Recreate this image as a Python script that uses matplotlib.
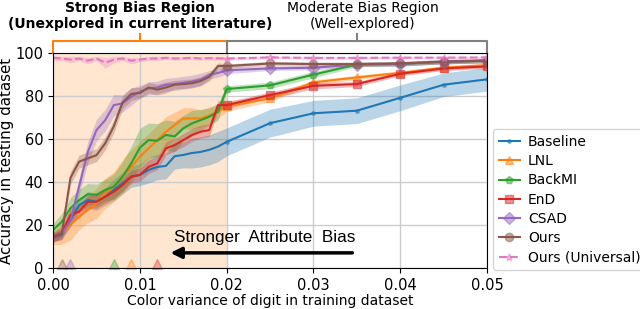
import matplotlib
matplotlib.use('Agg')
import matplotlib.pyplot as plt
import matplotlib.transforms as mtransforms
import numpy as np

# colour variance values (dense in strong-bias region, sparse afterwards)
x_vals = [0.000, 0.001, 0.002, 0.003, 0.004, 0.005, 0.006, 0.007, 0.008, 0.009,
          0.010, 0.011, 0.012, 0.013, 0.014, 0.015, 0.016, 0.017, 0.018, 0.019,
          0.020, 0.025, 0.030, 0.035, 0.040, 0.045, 0.050]

baseline = [14, 15.3, 22.3, 29.3, 31.6, 30.8, 33.2, 36.3, 39.4, 42.5,
            43.3, 45.6, 47, 47.5, 52, 52.6, 53.5, 54, 55, 56.5,
            58.7, 67.4, 72, 73.2, 79.2, 85.3, 87.8]
baseline_std = [2, 2, 3, 3, 4, 4, 4, 5, 5, 5,
                5, 6, 6, 6, 6, 6, 7, 7, 7, 7,
                6.5, 6.5, 6, 6, 6, 5.5, 5.5]

lnl = [13.8, 16, 20, 23.9, 27, 30, 34.7, 37.8, 42.5, 47,
       51.8, 55.6, 59.5, 63.4, 66.5, 69.6, 69.6, 69.6, 71, 72.7,
       75.3, 78.9, 86.4, 88.7, 90.8, 93.2, 94.4]
lnl_std = [3, 5, 7, 6, 6, 7, 7, 7, 8, 8,
           7, 7, 7, 7, 6, 5, 5, 4, 4, 3,
           2.5, 1.5, 1.2, 1, 1, 1, 1]

backmi = [17.7, 21.5, 27.8, 31.6, 34.3, 34, 36.3, 37.8, 42.5, 48.7,
          56, 59.5, 59.2, 61.9, 61.2, 65, 67.3, 68.8, 70.4, 72.7,
          83.3, 85, 90, 94.7, 95, 96, 96.5]
backmi_std = [3, 4, 5, 5, 5, 5, 5, 6, 7, 8,
              9, 8, 8, 7, 7, 6, 6, 5, 4, 4,
              1.5, 1.5, 1.5, 1, 1, 1, 1]

end = [14.6, 16, 24.7, 26.2, 30.8, 30.8, 33.2, 35.5, 38.6, 42.5,
       43.3, 47, 48.7, 55.7, 57.2, 59.5, 61.9, 63.4, 64.2, 75.8,
       75.8, 80.5, 84.8, 85.6, 90.4, 92.9, 93.8]
end_std = [2, 3, 3, 3, 3, 3, 3, 3, 3, 3,
           3, 3, 3, 3, 3, 3, 3, 3, 3, 2,
           1.5, 1.5, 1.5, 1.2, 1, 1, 1]

csad = [14, 16, 22, 38, 54, 64.2, 68.8, 75.8, 76.6, 79.7,
        82, 83.6, 84, 85.3, 85.6, 86.2, 86.8, 87.7, 89.9, 90.8,
        92, 92.9, 93.2, 94.7, 95, 96, 96.5]
csad_std = [2, 2, 3, 4, 5, 5, 5, 5, 4, 4,
            3, 3, 3, 3, 3, 3, 3, 3, 2, 2,
            1.5, 1, 1, 1, 1, 1, 1]

ours = [14, 16, 42, 49.5, 51, 52.5, 58, 66, 77, 81,
        81.5, 84, 83, 84, 85.3, 85.6, 86, 87, 89, 94,
        94, 95.2, 94.9, 94.9, 95.2, 96, 96.5]
ours_std = [2, 2, 3, 3, 3, 3, 3, 3, 3, 3,
            2.5, 2.5, 2.5, 2.5, 2, 2, 2, 2, 2, 1.5,
            1, 1, 1, 1, 1, 1, 1]

ours_uni = [97.8, 97.5, 97, 97.5, 96.5, 97.5, 95.5, 97, 97.5, 96.5,
            97, 97.5, 97.5, 97.8, 97.5, 97.6, 97.8, 97.5, 97.7, 97.6,
            97.5, 98, 97.8, 97.8, 97.9, 97.9, 98]
ours_uni_std = [1, 1, 1.5, 1, 1.5, 1, 2.5, 1.5, 1, 1.5,
                1, 1, 1, 0.8, 0.8, 0.8, 0.8, 0.8, 0.8, 0.8,
                0.8, 0.6, 0.6, 0.6, 0.6, 0.6, 0.6]

# thresholds where each method starts to beat baseline (small triangles on x axis)
thr_x = [0.001, 0.002, 0.007, 0.009, 0.012]
thr_colors = ['tab:brown', 'tab:purple', 'tab:green', 'tab:orange', 'tab:red']

series = [
    ('Baseline', baseline, baseline_std, 'tab:blue', '.', '-'),
    ('LNL', lnl, lnl_std, 'tab:orange', '^', '-'),
    ('BackMI', backmi, backmi_std, 'tab:green', 'p', '-'),
    ('EnD', end, end_std, 'tab:red', 's', '-'),
    ('CSAD', csad, csad_std, 'tab:purple', 'D', '-'),
    ('Ours', ours, ours_std, 'tab:brown', 'o', '-'),
    ('Ours (Universal)', ours_uni, ours_uni_std, 'tab:pink', '*', '--'),
]

fig = plt.figure(figsize=(6.4, 3.09), dpi=100)
ax = fig.add_axes([0.083, 0.133, 0.678, 0.695])

x = np.array(x_vals)
mark_idx = list(range(20, len(x_vals)))
for name, m, s, c, mk, ls in series:
    m = np.array(m)
    s = np.array(s)
    ax.fill_between(x, m - s, m + s, color=c, alpha=0.3, linewidth=0)
    ax.plot(x, m, color=c, linestyle=ls, marker=mk, markevery=mark_idx,
            markersize=6 if mk != '.' else 5, linewidth=1.5,
            markerfacecolor=matplotlib.colors.to_rgba(c, 0.5), label=name)

for tx, tc in zip(thr_x, thr_colors):
    ax.plot(tx, 1.8, marker='^', markersize=7, color=tc, alpha=0.35, clip_on=False)

ax.axvspan(0, 0.02, color='tab:orange', alpha=0.19, linewidth=0, zorder=0)

ax.set_xlim(0, 0.05)
ax.set_ylim(0, 100)
ax.set_xticks([0, 0.01, 0.02, 0.03, 0.04, 0.05])
ax.set_xticklabels(['0.00', '0.01', '0.02', '0.03', '0.04', '0.05'])
ax.set_yticks([0, 20, 40, 60, 80, 100])
ax.tick_params(labelsize=10.5)
ax.grid(True, color='#cccccc', linewidth=1)
ax.set_axisbelow(True)
for sp in ax.spines.values():
    sp.set_color('black')
ax.set_xlabel('Color variance of digit in training dataset', fontsize=10, labelpad=1)
ax.set_ylabel('Accuracy in testing dataset', fontsize=10.8, labelpad=1)

# arrow and text
ax.annotate('', xy=(0.0132, 7), xytext=(0.0348, 7),
            arrowprops=dict(arrowstyle='-|>', color='black', lw=2.5, mutation_scale=16))
ax.text(0.0244, 14, 'Stronger  Attribute  Bias', fontsize=12.3,
        family='Liberation Sans', ha='center', va='center')

# brackets above the axes
trans = mtransforms.blended_transform_factory(ax.transData, ax.transAxes)
def bracket(x0, x1, col):
    ax.plot([x0, x0, x1, x1], [1.0, 1.055, 1.055, 1.0], color=col, lw=1.5,
            transform=trans, clip_on=False)
    xm = (x0 + x1) / 2
    ax.plot([xm, xm], [1.055, 1.09], color=col, lw=1.5, transform=trans, clip_on=False)

bracket(0.0, 0.02, 'tab:orange')
bracket(0.02, 0.05, 'gray')

ax.text(0.01, 1.212, 'Strong Bias Region', transform=trans, ha='center', va='center',
        fontsize=10, fontweight='bold')
ax.text(0.01, 1.138, '(Unexplored in current literature)', transform=trans,
        ha='center', va='center', fontsize=10, fontweight='bold')
ax.text(0.0357, 1.212, 'Moderate Bias Region', transform=trans, ha='center',
        va='center', fontsize=10)
ax.text(0.0357, 1.138, '(Well-explored)', transform=trans, ha='center',
        va='center', fontsize=10)

ax.legend(loc='lower left', bbox_to_anchor=(1.014, -0.01), borderaxespad=0,
          fontsize=10, handlelength=1.5, handletextpad=0.6, borderpad=0.4,
          labelspacing=0.38)

fig.savefig('out.png', dpi=100)
